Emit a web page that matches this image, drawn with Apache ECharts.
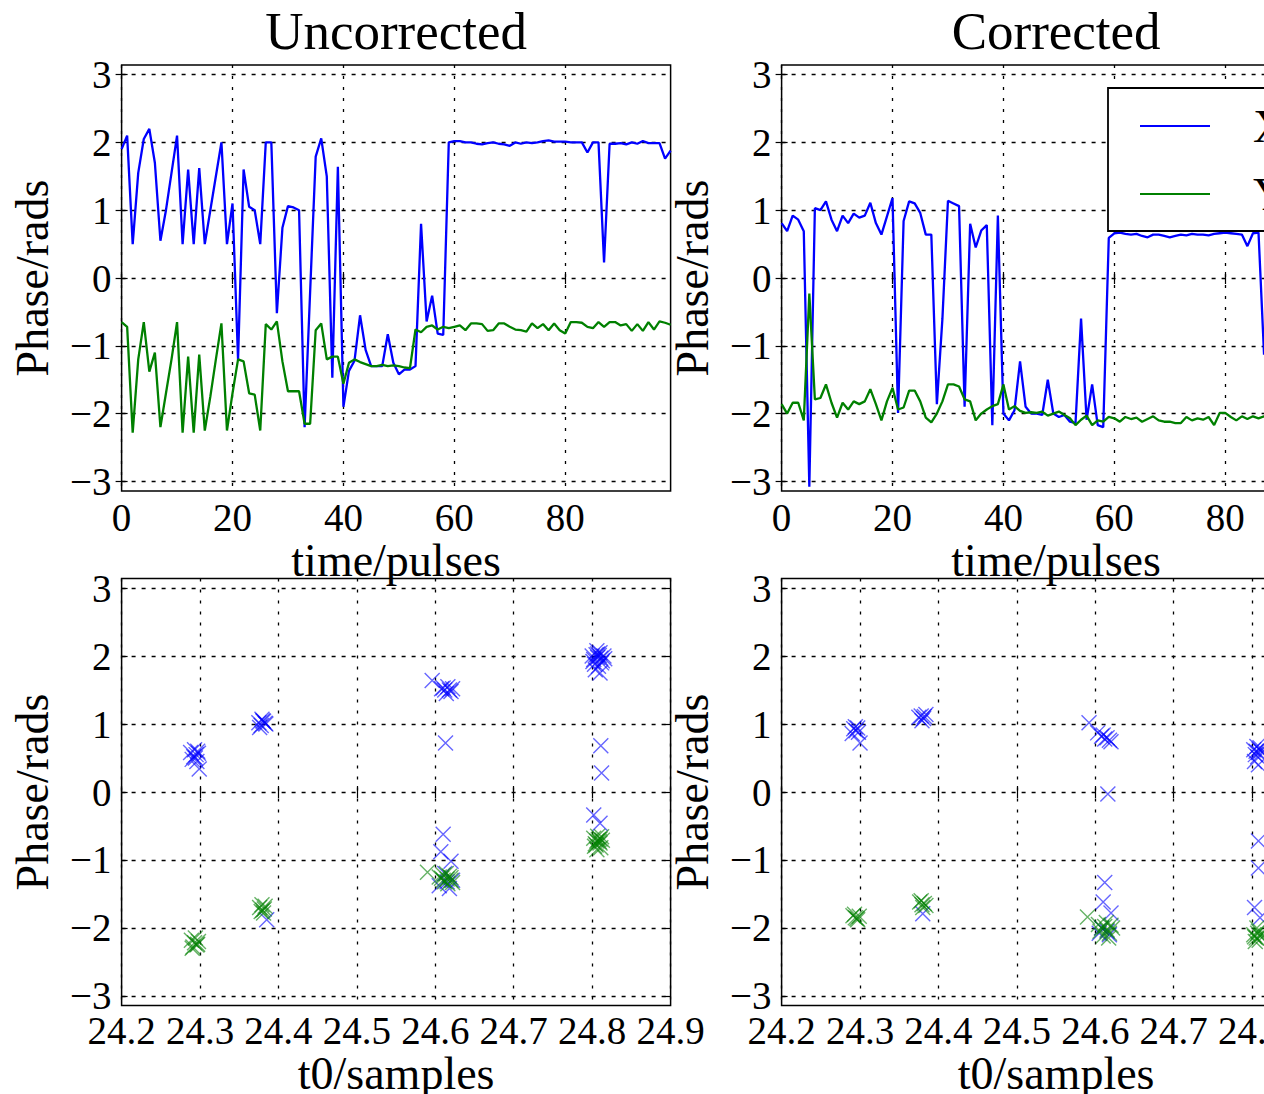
<!DOCTYPE html>
<html><head><meta charset="utf-8">
<script src="https://cdn.jsdelivr.net/npm/echarts@6/dist/echarts.min.js"></script>
<style>html,body{margin:0;padding:0;background:#fff;overflow:hidden}#c{width:1264px;height:1094px}</style>
</head><body><div id="c"></div>
<script>
// ---------- data ----------
const panelTitles = ['Uncorrected', 'Corrected'];
const legendNames = ['X', 'Y'];
const timeTicks = [0, 20, 40, 60, 80];
const t0Ticks = [24.2, 24.3, 24.4, 24.5, 24.6, 24.7, 24.8, 24.9];
const phaseTicks = [-3, -2, -1, 0, 1, 2, 3];

const uncX = [1.9, 2.1, 0.5, 1.55, 2.05, 2.2, 1.7, 0.55, 1.0, 1.55,
  2.1, 0.5, 1.6, 0.5, 1.62, 0.5, 1.0, 1.5, 2.0, 0.5,
  1.1, -1.2, 1.6, 1.05, 1.0, 0.5, 2.0, 2.0, -0.52, 0.74,
  1.06, 1.04, 1.0, -2.2, -0.2, 1.79, 2.06, 1.5, -1.47, 1.64,
  -1.9, -1.37, -1.22, -0.55, -1.06, -1.3, -1.3, -1.3, -0.83, -1.25,
  -1.42, -1.35, -1.35, -1.3, 0.8, -0.64, -0.26, -0.82, -0.84, 2.0,
  2.02, 2.02, 2.0, 2.0, 1.98, 1.97, 1.99, 2.0, 1.98, 1.97,
  1.95, 2.0, 1.98, 2.0, 1.99, 2.0, 2.02, 2.03, 2.01, 2.01,
  2.01, 2.0, 2.0, 2.0, 1.85, 2.0, 2.0, 0.23, 1.98, 1.98,
  1.99, 1.97, 2.0, 1.98, 2.02, 1.99, 1.99, 1.99, 1.76, 1.88];
const uncY = [-0.65, -0.72, -2.28, -1.2, -0.65, -1.38, -1.1, -2.2, -1.7, -1.2,
  -0.65, -2.28, -1.16, -2.28, -1.13, -2.25, -1.75, -1.2, -0.67, -2.25,
  -1.7, -1.2, -1.23, -1.7, -1.72, -2.25, -0.68, -0.76, -0.64, -1.23,
  -1.67, -1.67, -1.67, -2.15, -2.15, -0.77, -0.67, -1.2, -1.16, -1.16,
  -1.56, -1.25, -1.2, -1.24, -1.27, -1.3, -1.3, -1.28, -1.3, -1.29,
  -1.3, -1.32, -1.33, -0.76, -0.8, -0.72, -0.7, -0.76, -0.72, -0.74,
  -0.72, -0.7, -0.77, -0.67, -0.67, -0.68, -0.78, -0.77, -0.67, -0.67,
  -0.72, -0.76, -0.77, -0.79, -0.67, -0.74, -0.68, -0.77, -0.67, -0.77,
  -0.82, -0.65, -0.65, -0.66, -0.72, -0.74, -0.65, -0.72, -0.65, -0.65,
  -0.7, -0.68, -0.78, -0.68, -0.78, -0.65, -0.76, -0.64, -0.66, -0.69];
const corX = [0.81, 0.69, 0.92, 0.86, 0.69, -3.08, 1.03, 1.0, 1.13, 0.86,
  0.69, 0.92, 0.81, 0.95, 0.89, 0.92, 1.11, 0.81, 0.64, 0.91,
  1.18, -1.99, 0.84, 1.13, 1.1, 0.96, 0.64, 0.64, -1.86, -0.6,
  1.14, 1.1, 1.06, -1.9, 0.8, 0.45, 0.7, 0.78, -2.17, 0.92,
  -2.0, -2.1, -1.95, -1.23, -1.9, -2.0, -2.0, -2.02, -1.5, -2.0,
  -2.05, -2.02, -2.12, -2.14, -0.6, -2.09, -1.57, -2.17, -2.2, 0.59,
  0.66, 0.67, 0.65, 0.64, 0.65, 0.62, 0.6, 0.64, 0.64, 0.62,
  0.6, 0.62, 0.64, 0.63, 0.65, 0.64, 0.64, 0.63, 0.65, 0.66,
  0.67, 0.66, 0.65, 0.64, 0.47, 0.66, 0.67, -1.13, 0.6, 0.62,
  0.63, 0.61, 0.64, 0.62, 0.65, 0.63, 0.62, 0.62, 0.45, 0.55];
const corY = [-1.86, -2.0, -1.84, -1.84, -2.1, -0.23, -1.79, -1.77, -1.57, -1.84,
  -2.06, -1.84, -1.94, -1.82, -1.86, -1.82, -1.64, -1.86, -2.1, -1.82,
  -1.62, -1.94, -1.91, -1.66, -1.66, -1.82, -2.06, -2.13, -2.0, -1.82,
  -1.57, -1.57, -1.6, -1.79, -1.82, -2.1, -2.0, -1.94, -1.89, -1.86,
  -1.57, -1.94, -1.89, -1.96, -1.99, -1.98, -1.99, -1.97, -2.03, -2.0,
  -1.97, -2.02, -2.07, -2.17, -2.09, -2.03, -2.17, -2.1, -2.12, -2.05,
  -2.07, -2.12, -2.05, -2.08, -2.06, -2.12, -2.08, -2.04, -2.1, -2.12,
  -2.12, -2.14, -2.14, -2.05, -2.1, -2.07, -2.09, -2.05, -2.17, -1.99,
  -1.99, -2.05, -2.1, -2.04, -2.08, -2.04, -2.07, -2.04, -2.1, -2.08,
  -2.06, -2.1, -2.04, -2.08, -2.12, -2.06, -2.09, -2.05, -2.1, -2.07];

// scatter: [t0/samples, phase/rads]
const uncScatX = [
  [24.288,0.58],[24.292,0.52],[24.295,0.55],[24.297,0.6],[24.29,0.48],[24.294,0.5],[24.298,0.57],[24.293,0.62],[24.299,0.34],[24.296,0.45],
  [24.375,1.02],[24.378,0.98],[24.381,1.04],[24.384,1.0],[24.379,1.07],[24.376,0.95],[24.383,1.01],[24.38,1.05],[24.385,-1.88],
  [24.596,1.64],[24.608,1.52],[24.612,1.5],[24.616,1.55],[24.62,1.48],[24.614,1.45],[24.61,1.53],[24.618,1.5],[24.622,1.52],[24.613,0.72],
  [24.61,-0.62],[24.607,-0.88],[24.62,-1.02],[24.612,-1.2],[24.605,-1.38],[24.615,-1.32],[24.622,-1.3],[24.618,-1.42],
  [24.8,2.0],[24.802,1.95],[24.805,2.02],[24.807,1.98],[24.81,2.05],[24.812,1.9],[24.815,2.0],[24.808,1.85],[24.804,1.8],[24.811,1.97],
  [24.806,2.08],[24.813,1.93],[24.803,1.88],[24.809,2.01],[24.816,1.96],[24.801,1.92],[24.81,1.75],[24.807,2.03],
  [24.811,0.68],[24.812,0.28],[24.802,-0.34],[24.81,-0.46]];
const uncScatY = [
  [24.289,-2.18],[24.293,-2.22],[24.296,-2.25],[24.291,-2.28],[24.298,-2.2],[24.294,-2.15],[24.29,-2.3],[24.297,-2.24],
  [24.376,-1.7],[24.38,-1.74],[24.383,-1.68],[24.378,-1.76],[24.382,-1.72],[24.379,-1.66],[24.381,-1.78],
  [24.59,-1.18],[24.605,-1.25],[24.61,-1.22],[24.615,-1.28],[24.62,-1.3],[24.612,-1.32],[24.618,-1.24],[24.608,-1.27],[24.622,-1.33],[24.614,-1.2],[24.616,-1.35],[24.61,-1.3],[24.62,-1.26],
  [24.802,-0.68],[24.806,-0.72],[24.81,-0.75],[24.808,-0.7],[24.805,-0.78],[24.812,-0.66],[24.803,-0.8],[24.809,-0.73],[24.811,-0.82],[24.807,-0.65],[24.804,-0.76],[24.813,-0.71],[24.806,-0.85],[24.81,-0.69]];
const corScatX = [
  [24.292,0.93],[24.295,0.9],[24.298,0.88],[24.294,0.96],[24.29,0.86],[24.297,0.94],[24.3,0.72],
  [24.375,1.1],[24.378,1.12],[24.381,1.08],[24.384,1.14],[24.379,1.05],[24.382,1.11],[24.38,-1.79],
  [24.592,1.02],[24.603,0.87],[24.608,0.82],[24.612,0.78],[24.615,0.8],[24.618,0.76],[24.61,0.84],[24.62,0.74],[24.616,-0.03],
  [24.612,-1.33],[24.61,-1.62],[24.62,-1.78],[24.608,-2.0],[24.615,-2.05],[24.618,-2.1],[24.605,-2.08],
  [24.802,0.62],[24.805,0.6],[24.808,0.58],[24.81,0.65],[24.804,0.55],[24.807,0.52],[24.809,0.63],[24.803,0.45],[24.806,0.67],[24.811,0.6],[24.808,0.4],
  [24.808,-0.72],[24.808,-1.12],[24.803,-1.7],[24.81,-1.85]];
const corScatY = [
  [24.291,-1.82],[24.294,-1.85],[24.297,-1.88],[24.293,-1.8],[24.296,-1.86],[24.299,-1.83],
  [24.376,-1.62],[24.379,-1.66],[24.382,-1.64],[24.38,-1.7],[24.378,-1.6],[24.384,-1.67],
  [24.59,-1.84],[24.604,-1.95],[24.608,-2.0],[24.612,-1.98],[24.615,-2.03],[24.618,-2.08],[24.62,-1.96],[24.61,-2.12],[24.606,-2.05],[24.622,-2.0],[24.614,-1.92],[24.617,-2.15],
  [24.802,-2.1],[24.805,-2.15],[24.808,-2.05],[24.81,-2.12],[24.804,-2.2],[24.807,-2.08],[24.809,-2.18],[24.806,-2.0],[24.803,-2.13],[24.811,-2.1]];

// ---------- layout / style ----------
const FONT = "'Liberation Serif', 'Times New Roman', serif";
const BLUE = '#0000ff', GREEN = '#008000';
const GL = [121.6, 781.6], GW = 549;
const grids = [
  {left: GL[0], top: 65, width: GW, height: 426},
  {left: GL[1], top: 65, width: GW, height: 426},
  {left: GL[0], top: 578.5, width: GW, height: 427},
  {left: GL[1], top: 578.5, width: GW, height: 427}
].map(g => Object.assign(g, {show: true, borderColor: '#000', borderWidth: 1.5, backgroundColor: 'transparent',
  containLabel: false, outerBoundsMode: 'none'}));

const minus = v => (v < 0 ? '\u2212' : '') + Math.abs(v);
const tickStyle = {color: '#000', width: 1.2};

function mainX(gi, min, max, ticks, name, fmt, gap, margin) {
  return {type: 'value', gridIndex: gi, min, max, position: 'bottom',
    axisLine: {show: false},
    axisTick: {show: true, inside: true, length: 6, customValues: ticks, lineStyle: tickStyle},
    axisLabel: {show: true, customValues: ticks, margin, color: '#000', fontFamily: FONT, fontSize: 39,
      formatter: fmt, hideOverlap: false, showMinLabel: true, showMaxLabel: true},
    splitLine: {show: true, lineStyle: {color: '#000', width: 1.3, type: [3, 8]}},
    name, nameLocation: 'middle', nameGap: gap,
    nameTextStyle: {color: '#000', fontFamily: FONT, fontSize: 46}};
}
function sideX(gi, min, max, ticks) {
  return {type: 'value', gridIndex: gi, min, max, position: 'top',
    axisLine: {show: false}, axisLabel: {show: false}, splitLine: {show: false},
    axisTick: {show: true, inside: true, length: 6, customValues: ticks, lineStyle: tickStyle}};
}
function mainY(gi) {
  return {type: 'value', gridIndex: gi, min: -Math.PI, max: Math.PI, position: 'left',
    axisLine: {show: false},
    axisTick: {show: true, inside: true, length: 6, customValues: phaseTicks, lineStyle: tickStyle},
    axisLabel: {show: true, customValues: phaseTicks, margin: 10, color: '#000', fontFamily: FONT, fontSize: 39,
      formatter: minus, hideOverlap: false},
    splitLine: {show: true, lineStyle: {color: '#000', width: 1.3, type: [4, 6]}},
    name: 'Phase/rads', nameLocation: 'middle', nameGap: 66,
    nameTextStyle: {color: '#000', fontFamily: FONT, fontSize: 46}};
}
function sideY(gi) {
  return {type: 'value', gridIndex: gi, min: -Math.PI, max: Math.PI, position: 'right',
    axisLine: {show: false}, axisLabel: {show: false}, splitLine: {show: false},
    axisTick: {show: true, inside: true, length: 6, customValues: phaseTicks, lineStyle: tickStyle}};
}
const t0fmt = v => v.toFixed(1);

const xAxes = [
  mainX(0, 0, 99, timeTicks, 'time/pulses', v => String(v), 43, 7),
  mainX(1, 0, 99, timeTicks, 'time/pulses', v => String(v), 43, 7),
  mainX(2, 24.2, 24.9, t0Ticks, 't0/samples', t0fmt, 45, 5),
  mainX(3, 24.2, 24.9, t0Ticks, 't0/samples', t0fmt, 45, 5),
  sideX(0, 0, 99, timeTicks), sideX(1, 0, 99, timeTicks),
  sideX(2, 24.2, 24.9, t0Ticks), sideX(3, 24.2, 24.9, t0Ticks)
];
const yAxes = [mainY(0), mainY(1), mainY(2), mainY(3), sideY(0), sideY(1), sideY(2), sideY(3)];

const toPts = arr => arr.map((v, i) => [i, v]);
function lineSeries(name, data, color, idx) {
  return {type: 'line', name, data: toPts(data), xAxisIndex: idx, yAxisIndex: idx,
    symbol: 'none', showSymbol: false, clip: true, animation: false,
    lineStyle: {color, width: 2.3}, itemStyle: {color}, z: 3};
}
const XSYM = 'path://M0,0L10,10M10,0L0,10';
function scatSeries(name, data, color, idx) {
  return {type: 'scatter', name, data, xAxisIndex: idx, yAxisIndex: idx,
    symbol: XSYM, symbolSize: 15, animation: false,
    itemStyle: {color: 'rgba(0,0,0,0)', borderColor: color, borderWidth: 1.4, opacity: 0.6}, z: 3};
}

const option = {
  backgroundColor: '#fff',
  animation: false,
  title: [
    {text: panelTitles[0], left: GL[0] + GW / 2, top: 4, textAlign: 'center', padding: 0,
      textStyle: {fontFamily: FONT, fontSize: 53, fontWeight: 'normal', color: '#000'}},
    {text: panelTitles[1], left: GL[1] + GW / 2, top: 4, textAlign: 'center', padding: 0,
      textStyle: {fontFamily: FONT, fontSize: 53, fontWeight: 'normal', color: '#000'}}
  ],
  legend: {
    data: legendNames.map(n => ({name: n, icon: 'rect'})), orient: 'vertical', left: 1108, top: 88,
    backgroundColor: '#fff', borderColor: '#000', borderWidth: 1.8, borderRadius: 0,
    padding: [15, 40, 14, 32], itemWidth: 70, itemHeight: 2, itemGap: 22,
    selectedMode: false,
    textStyle: {fontFamily: FONT, fontSize: 46, color: '#000', padding: [0, 0, 0, 38]}
  },
  grid: grids,
  xAxis: xAxes,
  yAxis: yAxes,
  series: [
    lineSeries(legendNames[0], uncX, BLUE, 0),
    lineSeries(legendNames[1], uncY, GREEN, 0),
    lineSeries(legendNames[0], corX, BLUE, 1),
    lineSeries(legendNames[1], corY, GREEN, 1),
    scatSeries('X t0', uncScatX, BLUE, 2),
    scatSeries('Y t0', uncScatY, GREEN, 2),
    scatSeries('X t0 corrected', corScatX, BLUE, 3),
    scatSeries('Y t0 corrected', corScatY, GREEN, 3)
  ]
};
const chart = echarts.init(document.getElementById('c'), null, {renderer: 'svg', width: 1264, height: 1094});
chart.setOption(option);
</script></body></html>
